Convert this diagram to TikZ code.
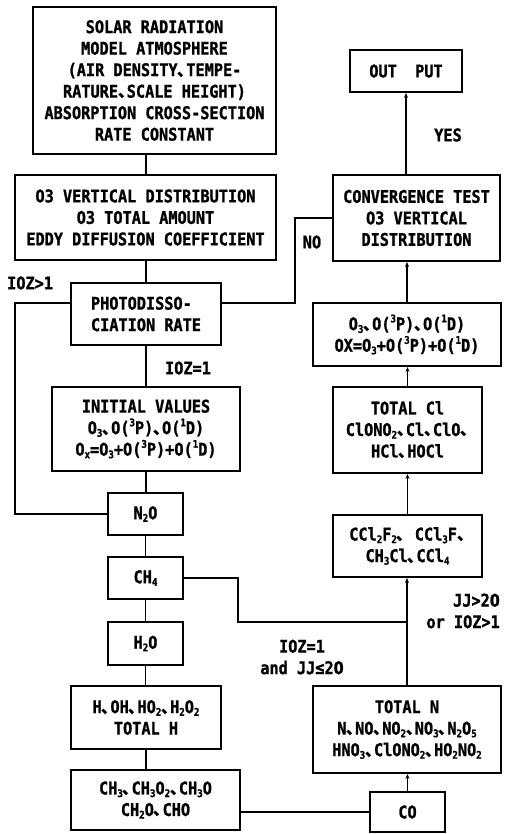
\documentclass[tikz,border=0pt]{standalone}
\usepackage{fontspec}
\usetikzlibrary{arrows.meta}
\newfontfamily\mf{DejaVu Sans Mono}[FakeStretch=0.87,FakeBold=1.2]
\newfontfamily\zf{DejaVu Sans}[FakeStretch=0.82,FakeBold=1.2]
\newfontfamily\cjk{Noto Sans CJK JP}
\newcommand\jc{{\cjk ､}}
\newcommand\zr{{\zf 0}}
\newcommand\dn[1]{\raisebox{-0.15em}{\fontsize{10.5}{10.5}\selectfont #1}}
\newcommand\up[1]{\raisebox{0.45em}{\fontsize{10.5}{10.5}\selectfont #1}}
\begin{document}
\begin{tikzpicture}[x=1pt,y=-1pt,
  txt/.style={font=\mf\bfseries\fontsize{17.5}{21.5}\selectfont},
  box/.style={txt, draw, line width=1.9pt, align=center, inner sep=0pt},
  lbl/.style={txt, inner sep=0pt},
  ln/.style={line width=1.9pt},
  ar/.style={ln, -{Stealth[length=5pt,width=4pt]}}]
\useasboundingbox[fill=white] (0,0) rectangle (511,834);
% left column
\node[box, minimum width=243pt, minimum height=147pt] (b1) at (154.5,80.5)
  {SOLAR RADIATION\\MODEL ATMOSPHERE\\(AIR DENSITY\jc TEMPE-\\RATURE\jc SCALE HEIGHT)\\ABSORPTION CROSS-SECTION\\RATE CONSTANT};
\node[box, minimum width=261pt, minimum height=85pt] (b2) at (145.5,217.5)
  {O3 VERTICAL DISTRIBUTION\\O3 TOTAL AMOUNT\\EDDY DIFFUSION COEFFICIENT};
\node[box, align=left, minimum width=150pt, minimum height=62pt] (photo) at (146,314)
  {PHOTODISSO-\\CIATION RATE};
\node[box, minimum width=188pt, minimum height=84pt] (init) at (146,429)
  {INITIAL VALUES\\O\dn{3}\jc O(\up{3}P)\jc O(\up{1}D)\\O\dn{x}=O\dn{3}+O(\up{3}P)+O(\up{1}D)};
\node[box, minimum width=75pt, minimum height=42pt] (n2o) at (145.5,514) {N\dn{2}O};
\node[box, minimum width=75pt, minimum height=42pt] (ch4) at (145.5,578) {CH\dn{4}};
\node[box, minimum width=75pt, minimum height=43pt] (h2o) at (145.5,643.5) {H\dn{2}O};
\node[box, minimum width=150pt, minimum height=63pt] (hoh) at (146,717.5)
  {H\jc OH\jc HO\dn{2}\jc H\dn{2}O\dn{2}\\TOTAL H};
\node[box, minimum width=169pt, minimum height=60pt] (ch3) at (155.5,800)
  {CH\dn{3}\jc CH\dn{3}O\dn{2}\jc CH\dn{3}O\\CH\dn{2}O\jc CHO};
% right column
\node[box, minimum width=112pt, minimum height=42pt] (out) at (406,71) {OUT\ \ PUT};
\node[box, minimum width=167pt, minimum height=86pt] (conv) at (416.5,218)
  {CONVERGENCE TEST\\O3 VERTICAL\\DISTRIBUTION};
\node[box, minimum width=188pt, minimum height=63pt] (ox) at (407,334.5)
  {O\dn{3}\jc O(\up{3}P)\jc O(\up{1}D)\\OX=O\dn{3}+O(\up{3}P)+O(\up{1}D)};
\node[box, minimum width=149pt, minimum height=86pt] (tcl) at (407.5,430)
  {TOTAL Cl\\ClONO\dn{2}\jc Cl\jc ClO\jc\\HCl\jc HOCl};
\node[box, minimum width=149pt, minimum height=62pt] (ccl) at (407.5,546)
  {CCl\dn{2}F\dn{2}\jc\ CCl\dn{3}F\jc\\CH\dn{3}Cl\jc CCl\dn{4}};
\node[box, minimum width=188pt, minimum height=87pt] (tn) at (407,729.5)
  {TOTAL N\\N\jc NO\jc NO\dn{2}\jc NO\dn{3}\jc N\dn{2}O\dn{5}\\HNO\dn{3}\jc ClONO\dn{2}\jc HO\dn{2}NO\dn{2}};
\node[box, minimum width=75pt, minimum height=40pt] (co) at (407.5,812) {CO};
% labels
\node[lbl, anchor=west] (l1) at (7,283) {IOZ>1};
\node[lbl] (l2) at (188,368) {IOZ=1};
\node[lbl] (l3) at (448,135) {YES};
\node[lbl] (l4) at (312,242) {NO};
\node[lbl, anchor=east, align=right] (l5) at (500,611) {JJ>2\zr\\or IOZ>1};
\node[lbl, align=center] (l6) at (302,657) {IOZ=1\\and JJ≤2\zr};
% helper coordinates
\coordinate (lft) at (15,400);
\coordinate (nox) at (295,260);
\coordinate (c4) at (238,600);
\coordinate (jn) at (407,622);
% connectors left
\draw[ln] (b1.south -| photo.north) -- (b2.north -| photo.north);
\draw[ln] (b2.south -| photo.north) -- (photo.north);
\draw[ln] (photo.south) -- (init.north);
\draw[ln] (init.south) -- (init.south |- n2o.north);
\draw[ln] (n2o.south) -- (ch4.north);
\draw[ln] (ch4.south) -- (h2o.north);
\draw[ln] (h2o.south) -- (h2o.south |- hoh.north);
\draw[ln] (hoh.south) -- (hoh.south |- ch3.north);
\draw[ln] ([yshift=11pt]photo.west) -| (lft) |- (n2o.west);
\draw[ln] ([yshift=11pt]photo.east) -| (nox) |- (conv.west);
\draw[ln] (ch4.east) -| (c4) |- (jn);
\draw[ln] (ch3.east |- co.west) -- (co.west);
% connectors right (upward)
\draw[ar] (co.north) -- (co.north |- tn.south);
\draw[ar] (tn.north) -- (tn.north |- ccl.south);
\draw[ar] (ccl.north) -- (tcl.south);
\draw[ar] (tcl.north) -- (tcl.north |- ox.south);
\draw[ar] (ox.north) -- (ox.north |- conv.south);
\draw[ar] (conv.north -| out.south) -- (out.south);
\end{tikzpicture}
\end{document}
